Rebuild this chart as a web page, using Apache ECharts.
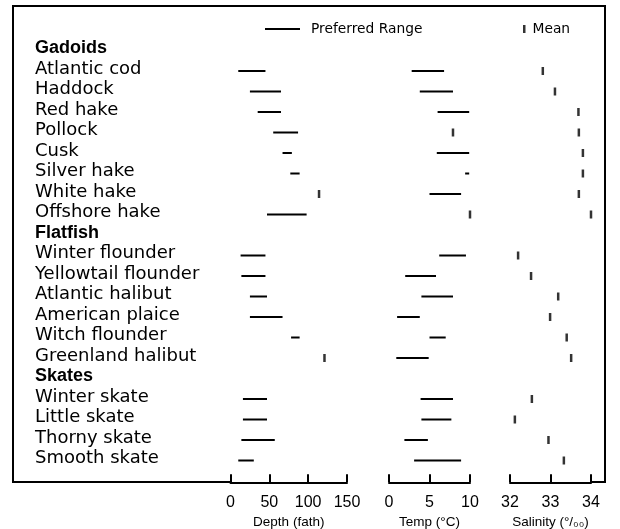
<!DOCTYPE html>
<html>
<head>
<meta charset="utf-8">
<script src="https://cdn.jsdelivr.net/npm/echarts@6/dist/echarts.min.js"></script>
<style>
html,body{margin:0;padding:0;background:#fff;}
#chart{width:620px;height:529px;}
</style>
</head>
<body>
<div id="chart"></div>
<script>
// ---------- data ----------
const categories = ['Gadoids','Atlantic cod','Haddock','Red hake','Pollock','Cusk','Silver hake','White hake','Offshore hake',
  'Flatfish','Winter flounder','Yellowtail flounder','Atlantic halibut','American plaice','Witch flounder','Greenland halibut',
  'Skates','Winter skate','Little skate','Thorny skate','Smooth skate'];
const groupHeaders = ['Gadoids','Flatfish','Skates'];

// Depth (fathoms) preferred range and mean
const depthLow  = [null,10,25,35,55,67,77,null,47, null,13,14,25,25,78,null, null,16,16,14,10];
const depthHigh = [null,45,65,65,87,79,89,null,98, null,45,45,47,67,89,null, null,47,47,57,30];
const depthMean = [null,null,null,null,null,null,null,114,null, null,null,null,null,null,null,121, null,null,null,null,null];

// Temperature (°C) preferred range and mean
const tempLow  = [null,2.8,3.8,6.0,null,5.9,9.4,5.0,null, null,6.2,2.0,4.0,1.0,5.0,0.9, null,3.9,4.0,1.9,3.1];
const tempHigh = [null,6.8,7.9,9.9,null,9.9,9.9,8.9,null, null,9.5,5.8,7.9,3.8,7.0,4.9, null,7.9,7.7,4.8,8.9];
const tempMean = [null,null,null,null,7.9,null,null,null,10.0, null,null,null,null,null,null,null, null,null,null,null,null];

// Salinity (per mille) mean
const salinityMean = [null,32.81,33.11,33.69,33.70,33.80,33.80,33.70,34.0, null,32.2,32.52,33.19,32.99,33.4,33.51, null,32.54,32.12,32.95,33.33];

// Axis tick labels
const depthTicks = [0,50,100,150];
const tempTicks = [0,5,10];
const salinityTicks = [32,33,34];

const axisNames = ['Depth (fath)','Temp (°C)','Salinity (°/₀₀)'];
const legendNames = ['Preferred Range','Mean'];

// ---------- build ----------
function rangeData(lo, hi){
  const out=[];
  lo.forEach((v,i)=>{ if(v!=null && hi[i]!=null) out.push([v,hi[i],i]); });
  return out;
}
function meanData(m){
  const out=[];
  m.forEach((v,i)=>{ if(v!=null) out.push([v,i]); });
  return out;
}
function renderRange(params, api){
  const p1 = api.coord([api.value(0), api.value(2)]);
  const p2 = api.coord([api.value(1), api.value(2)]);
  return {type:'line', shape:{x1:p1[0],y1:p1[1],x2:p2[0],y2:p2[1]}, style:{stroke:'#000', lineWidth:2}};
}

const gridTop = 40.25, gridH = 430.5;
const grids = [
  {left:230.5, width:116.5, top:gridTop, height:gridH, outerBoundsMode:'none', containLabel:false},
  {left:389, width:81, top:gridTop, height:gridH, outerBoundsMode:'none', containLabel:false},
  {left:510, width:81, top:gridTop, height:gridH, outerBoundsMode:'none', containLabel:false}
];
const ticksArr = [depthTicks, tempTicks, salinityTicks];

const xAxes = grids.map((g,i)=>({
  type:'value', gridIndex:i,
  min: ticksArr[i][0], max: ticksArr[i][ticksArr[i].length-1],
  interval: ticksArr[i][1]-ticksArr[i][0],
  offset: 11.5,
  splitLine:{show:false},
  axisLine:{show:true, lineStyle:{color:'#000', width:2}},
  axisTick:{show:true, inside:true, length:8, lineStyle:{color:'#000', width:2}},
  axisLabel:{color:'#000', fontSize:16, fontFamily:'Liberation Sans, Arial', margin:12},
  name: axisNames[i], nameLocation:'middle', nameGap:33,
  nameTextStyle:{color:'#000', fontSize:13.5, fontFamily:'Liberation Sans, Arial'}
}));

const yAxes = grids.map((g,i)=>({
  type:'category', gridIndex:i, data:categories, inverse:true,
  axisLine:{show:false}, axisTick:{show:false}, splitLine:{show:false},
  axisLabel: i===0 ? {
    show:true, align:'left', margin:195.5, verticalAlign:'middle', padding:[0,0,4,0],
    formatter: v => groupHeaders.includes(v) ? '{h|'+v+'}' : '{s|'+v+'}',
    rich:{
      h:{fontFamily:'Liberation Sans, Arial', fontWeight:'bold', fontSize:18, color:'#000'},
      s:{fontFamily:'DejaVu Sans', fontSize:18, color:'#000'}
    }
  } : {show:false}
}));

const lows = [depthLow, tempLow, null], highs = [depthHigh, tempHigh, null];
const means = [depthMean, tempMean, salinityMean];
const series = [];
grids.forEach((g,i)=>{
  if(lows[i]){
    series.push({type:'custom', name:legendNames[0], xAxisIndex:i, yAxisIndex:i,
      renderItem: renderRange, data: rangeData(lows[i], highs[i]),
      encode:{x:[0,1], y:2}, itemStyle:{color:'#000'}, silent:true});
  }
  series.push({type:'scatter', name:legendNames[1], xAxisIndex:i, yAxisIndex:i,
    symbol:'rect', symbolSize:[2.5,8], data: meanData(means[i]),
    itemStyle:{color:'#000'}, silent:true});
});

const option = {
  animation:false,
  backgroundColor:'#fff',
  grid: grids,
  xAxis: xAxes,
  yAxis: yAxes,
  legend: [
    {data:[{name:legendNames[0], icon:'rect'}], left:260, top:17, itemWidth:35, itemHeight:2,
     selectedMode:false, textStyle:{color:'#000', fontSize:13.8, fontFamily:'DejaVu Sans', padding:[0,0,0,6]}},
    {data:[{name:legendNames[1], icon:'rect'}], left:518, top:17, itemWidth:2.5, itemHeight:8,
     selectedMode:false, textStyle:{color:'#000', fontSize:13.8, fontFamily:'DejaVu Sans', padding:[0,0,0,2]}}
  ],
  graphic:[
    {type:'polyline', silent:true, shape:{points:[[231,482],[13,482],[13,6],[605,6],[605,482],[591,482]]},
     style:{stroke:'#000', lineWidth:2, fill:null}}
  ],
  series: series
};

const chart = echarts.init(document.getElementById('chart'), null, {renderer:'canvas'});
chart.setOption(option);
</script>
</body>
</html>
